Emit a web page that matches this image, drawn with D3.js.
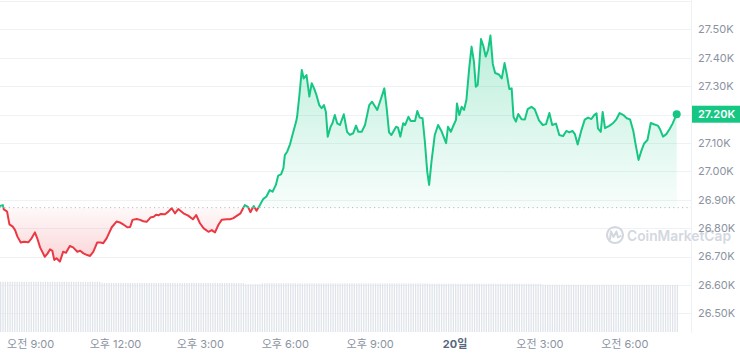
<!DOCTYPE html>
<html>
<head>
<meta charset="utf-8">
<script src="https://d3js.org/d3.v7.min.js"></script>
<style>
  body { margin: 0; background: #fff; overflow: hidden; }
  svg { display: block; font-family: Inter, "Noto Sans CJK KR", sans-serif; }
  .grid line { stroke: #eff2f5; stroke-width: 1; }
  .ylab { font-size: 11px; fill: #8b93a1; }
  .xlab { font-size: 11px; fill: #8b93a1; }
</style>
</head>
<body>
<div id="chart"></div>
<script>
// BTC price, 1D view (times are minutes after the start, 19th 07:55)
const START = new Date(2023, 8, 19, 7, 55);
const SPAN_MIN = 1435;
const openPrice = 26872;

const minutes = [
  0,6,8,13,15,20,27,32,37,44, 51,60,67,74,79,85,95,101,106,111,
  115,120,127,134,140,148,155,164,170,177, 185,191,198,206,213,219,226,237,247,254,
  263,270,276,281,290,297,304,311,319,326, 331,336,341,350,357,364,371,378,389,399,
  409,416,424,432,442,449,456,463,470,481, 488,495,502,510,519,526,531,538,544,550,
  558,565,572,578,585,590,596,601,604,609, 615,622,628,630,635,640,644,650,656,661,
  666,671,677,682,687,691,695,701,705,710, 715,721,729,736,742,749,755,760,767,774,
  783,789,800,807,815,820,825,830,840,844, 849,855,859,866,871,880,885,890,896,901,
  906,910,915,922,929,936,946,950,956,962, 967,969,974,979,984,989,995,1000,1005,1009,
  1013,1016,1020,1025,1030,1035,1040,1045,1050,1058, 1064,1070,1075,1080,1085,1089,1094,1099,1106,1113,
  1119,1127,1134,1143,1151,1158,1165,1171,1179,1186, 1194,1201,1207,1214,1219,1225,1233,1240,1247,1254,
  1260,1265,1268,1274,1278,1283,1292,1301,1307,1314, 1322,1329,1336,1343,1347,1354,1360,1366,1373,1380,
  1388,1395,1400,1406,1413,1420,1426,1435
];
const prices = [
  26878,26881,26866,26861,26858,26813,26805,26793,26770,26749, 26752,26750,26764,26785,26764,26732,26699,26711,26725,26720,
  26688,26694,26682,26717,26713,26737,26732,26717,26720,26711, 26705,26702,26717,26749,26749,26747,26764,26803,26823,26820,
  26811,26803,26804,26829,26832,26829,26824,26822,26837,26840, 26847,26845,26850,26849,26858,26870,26852,26867,26852,26844,
  26831,26846,26817,26799,26787,26793,26785,26811,26829,26831, 26831,26835,26843,26852,26881,26875,26856,26878,26861,26878,
  26902,26911,26934,26928,26952,26985,26989,27011,27057,27069, 27095,27139,27175,27192,27269,27357,27327,27339,27263,27310,
  27292,27269,27233,27222,27233,27210,27122,27157,27169,27198, 27169,27163,27201,27139,27128,27134,27161,27139,27139,27163,
  27233,27245,27216,27251,27292,27222,27137,27128,27157,27154, 27122,27169,27163,27192,27177,27177,27212,27189,27187,27104,
  26999,26952,27034,27128,27163,27142,27099,27157,27139,27163, 27181,27239,27198,27227,27216,27251,27363,27439,27386,27298,
  27304,27368,27466,27441,27404,27427,27478,27378,27346,27341, 27327,27381,27339,27290,27292,27191,27175,27202,27183,27182,
  27219,27227,27218,27179,27163,27166,27205,27163,27168,27128, 27124,27142,27137,27142,27131,27094,27145,27182,27189,27184,
  27198,27204,27151,27139,27209,27152,27160,27171,27183,27205, 27198,27187,27183,27142,27103,27040,27072,27098,27110,27170,
  27165,27161,27147,27122,27131,27149,27167,27201
];

// 24h volume (billions), one bar per 5 minutes
const volumes = [
  15.46,15.48,15.47,15.45,15.46,15.49,15.47,15.46,15.44,15.46,15.48,15.47,15.45,15.46,15.47,15.45,15.44,15.46,15.47,15.45,15.46,15.44,15.45,15.47,
  15.46,15.44,15.45,15.46,15.44,15.43,15.45,15.44,15.46,15.45,15.43,15.44,15.45,15.42,15.44,15.43,15.45,15.42,15.43,15.12,15.10,15.11,15.09,15.10,
  15.11,15.09,15.10,15.08,15.10,15.11,15.09,15.08,15.10,15.09,15.11,15.10,15.08,15.09,15.10,15.08,15.09,15.11,15.10,15.09,15.08,15.10,15.09,15.11,
  15.10,15.08,15.09,15.10,15.08,15.07,15.09,15.10,15.08,15.09,15.07,15.08,15.10,15.09,15.08,15.07,15.09,15.08,15.06,15.08,15.07,15.09,15.08,15.06,
  15.07,15.08,15.06,15.07,15.05,15.07,15.06,15.05,14.72,14.70,14.71,14.69,14.70,14.72,14.70,15.01,15.00,15.02,14.99,15.01,15.00,14.98,15.01,15.00,
  14.99,15.01,15.00,14.98,15.00,15.01,14.99,15.00,14.96,14.95,14.97,14.96,14.94,14.96,14.95,14.97,14.95,14.94,14.96,14.95,14.97,14.94,14.95,14.96,
  14.95,14.93,14.96,14.94,14.95,14.97,14.94,14.96,14.95,14.93,14.95,14.96,14.94,14.95,14.93,14.96,14.94,14.95,14.93,14.94,14.96,14.95,14.93,14.94,
  14.95,14.93,14.94,14.96,14.94,14.93,14.95,14.94,14.92,14.94,14.95,14.93,14.94,14.88,14.86,14.87,14.85,14.86,14.88,14.85,14.87,14.86,14.84,14.86,
  14.85,14.87,14.86,14.84,14.86,14.85,14.83,14.85,14.87,14.84,14.86,14.85,14.83,14.85,14.84,14.86,14.85,14.83,14.84,14.86,14.84,14.83,14.85,14.84,
  14.82,14.84,14.85,14.83,14.84,14.82,14.84,14.83,14.85,14.82,14.83,14.84,14.82,14.83,14.56,14.55,14.57,14.54,14.56,14.55,14.53,14.56,14.55,14.54,
  14.56,14.55,14.53,14.55,14.54,14.56,14.55,14.53,14.54,14.55,14.53,14.56,14.54,14.55,14.53,14.54,14.56,14.55,14.53,14.54,14.55,14.53,14.54,14.52,
  14.54,14.53,14.55,14.52,14.54,14.53,14.51,14.53,14.54,14.52,14.53,14.51,14.53,14.52,14.54,14.51,14.52,14.53,14.51,14.52,14.50,14.52,14.51,14.52
];

const yTicks = [26500,26600,26700,26800,26900,27000,27100,27200,27300,27400,27500,27600];
const xTickHours = [9,12,15,18,21,24,27,30];
const xTickLabels = ["오전 9:00","오후 12:00","오후 3:00","오후 6:00","오후 9:00","20일","오전 3:00","오전 6:00"];

const W = 740, H = 354;
const plotRight = 691;
const green = "#16c784", red = "#ea3943";

const svg = d3.select("#chart").append("svg").attr("width", W).attr("height", H);
const defs = svg.append("defs");

const x = d3.scaleTime()
  .domain([START, new Date(+START + SPAN_MIN * 60000)])
  .range([0, 676.7]);
const y = d3.scaleLinear().domain([26500, 27500]).range([313.3, 29.3]);
const yVol = d3.scaleLinear().domain([0, 16]).range([332, 280]);

const data = minutes.map((m, i) => ({ t: new Date(+START + m * 60000), p: prices[i] }));
const yBase = y(openPrice);

// gradients
const gGrad = defs.append("linearGradient").attr("id", "gGrad")
  .attr("gradientUnits", "userSpaceOnUse").attr("x1", 0).attr("x2", 0).attr("y1", 30).attr("y2", yBase);
gGrad.append("stop").attr("offset", 0).attr("stop-color", green).attr("stop-opacity", 0.3);
gGrad.append("stop").attr("offset", 1).attr("stop-color", green).attr("stop-opacity", 0.03);
const rGrad = defs.append("linearGradient").attr("id", "rGrad")
  .attr("gradientUnits", "userSpaceOnUse").attr("x1", 0).attr("x2", 0).attr("y1", yBase).attr("y2", 264);
rGrad.append("stop").attr("offset", 0).attr("stop-color", red).attr("stop-opacity", 0.03);
rGrad.append("stop").attr("offset", 1).attr("stop-color", red).attr("stop-opacity", 0.22);

defs.append("clipPath").attr("id", "above").append("rect")
  .attr("x", -5).attr("y", 0).attr("width", W).attr("height", yBase);
defs.append("clipPath").attr("id", "below").append("rect")
  .attr("x", -5).attr("y", yBase).attr("width", W).attr("height", H - yBase);

// grid
svg.append("g").attr("class", "grid")
  .selectAll("line").data(yTicks).join("line")
  .attr("x1", 0).attr("x2", plotRight)
  .attr("y1", d => Math.round(y(d)) + 0.5).attr("y2", d => Math.round(y(d)) + 0.5);

svg.append("line")
  .attr("x1", plotRight + 0.5).attr("x2", plotRight + 0.5).attr("y1", 0).attr("y2", 333)
  .attr("stroke", "#eff2f5");

// volume bars
svg.append("g").selectAll("rect").data(volumes).join("rect")
  .attr("x", (d, i) => x(new Date(+START + i * 5 * 60000)))
  .attr("width", 1.3)
  .attr("y", d => yVol(d))
  .attr("height", d => yVol(0) - yVol(d))
  .attr("fill", "#e0e4ea");

// watermark
const wm = svg.append("g").attr("fill", "none").attr("stroke", "#d3d8e0");
wm.append("circle").attr("cx", 615).attr("cy", 235).attr("r", 8).attr("stroke-width", 2.2);
wm.append("path").attr("d", "M610,239 L611,231.5 L613.5,237 L616.5,231.5 L618,237.5 L620.5,236")
  .attr("stroke-width", 2).attr("stroke-linejoin", "round").attr("stroke-linecap", "round");
svg.append("text").attr("x", 627).attr("y", 241)
  .attr("fill", "#d3d8e0").attr("font-size", 14.5).attr("font-weight", 600)
  .attr("textLength", 104).attr("lengthAdjust", "spacingAndGlyphs")
  .text("CoinMarketCap");

// baseline
svg.append("line")
  .attr("x1", 0).attr("x2", plotRight).attr("y1", yBase).attr("y2", yBase)
  .attr("stroke", "#b3bac6").attr("stroke-width", 1).attr("stroke-dasharray", "1.2,3.2");

// areas & lines
const area = d3.area().x(d => x(d.t)).y0(yBase).y1(d => y(d.p));
const line = d3.line().x(d => x(d.t)).y(d => y(d.p));

svg.append("path").datum(data).attr("d", area).attr("fill", "url(#gGrad)").attr("clip-path", "url(#above)");
svg.append("path").datum(data).attr("d", area).attr("fill", "url(#rGrad)").attr("clip-path", "url(#below)");
svg.append("path").datum(data).attr("d", line).attr("fill", "none")
  .attr("stroke", green).attr("stroke-width", 2).attr("stroke-linejoin", "round").attr("clip-path", "url(#above)");
svg.append("path").datum(data).attr("d", line).attr("fill", "none")
  .attr("stroke", red).attr("stroke-width", 2).attr("stroke-linejoin", "round").attr("clip-path", "url(#below)");

const last = data[data.length - 1];
svg.append("circle").attr("cx", x(last.t)).attr("cy", y(last.p)).attr("r", 4).attr("fill", green);

// y labels
svg.append("g").selectAll("text").data(yTicks.filter(d => d <= 27500)).join("text")
  .attr("class", "ylab")
  .attr("x", 698).attr("y", d => y(d)).attr("dy", "0.36em")
  .text(d => (d / 1000).toFixed(2) + "K");

// current price tag
svg.append("rect").attr("x", 692).attr("y", y(last.p) - 8.5).attr("width", 48).attr("height", 17).attr("fill", green);
svg.append("text").attr("x", 698).attr("y", y(last.p)).attr("dy", "0.36em")
  .attr("fill", "#fff").attr("font-size", 11).attr("font-weight", 600)
  .text((Math.round(last.p / 10) / 100).toFixed(2) + "K");

// x labels
svg.append("g").selectAll("text").data(xTickHours).join("text")
  .attr("class", "xlab")
  .attr("x", h => x(new Date(2023, 8, 19, h, 0)))
  .attr("y", 348)
  .attr("text-anchor", "middle")
  .attr("font-weight", (h, i) => xTickLabels[i] === "20일" ? 700 : 400)
  .style("fill", (h, i) => xTickLabels[i] === "20일" ? "#58667e" : null)
  .text((h, i) => xTickLabels[i]);
</script>
</body>
</html>
